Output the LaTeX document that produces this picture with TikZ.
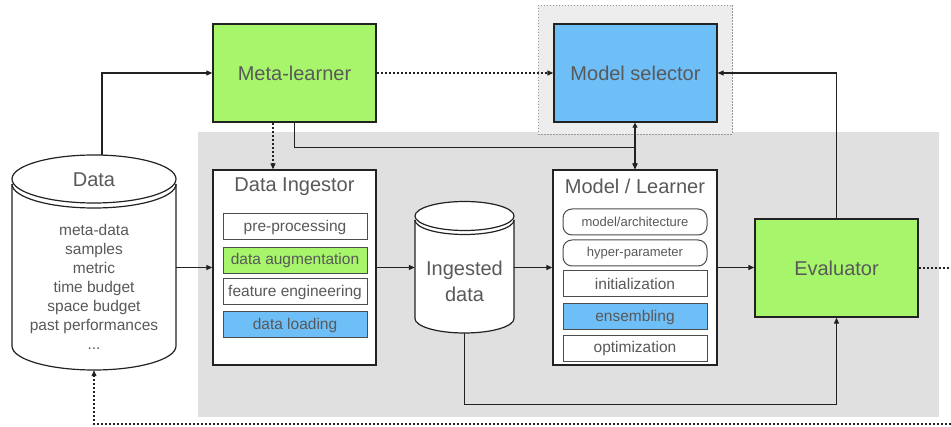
\documentclass[tikz,border=0pt]{standalone}
\usepackage{fontspec}
\setmainfont{Liberation Sans}
\usetikzlibrary{arrows.meta}
\definecolor{lgreen}{RGB}{166,245,107}
\definecolor{lblue}{RGB}{110,190,248}
\definecolor{bggray}{RGB}{224,224,224}
\definecolor{selgray}{RGB}{237,237,237}
\definecolor{txt}{RGB}{89,89,89}
\definecolor{edge}{RGB}{34,34,34}
\begin{document}
\begin{tikzpicture}[x=1pt,y=-1pt,
 every node/.style={text=txt, font=\fontsize{20}{24}\selectfont},
 bigbox/.style={draw=edge, line width=1.3pt, minimum width=163pt, minimum height=98pt, inner sep=0pt},
 panel/.style={draw=edge, line width=1.3pt, fill=white, minimum width=163pt, minimum height=195pt, inner sep=0pt},
 sub/.style={draw=black!70, line width=1pt, minimum width=144pt, minimum height=26pt, inner sep=0pt, font=\fontsize{15.5}{18}\selectfont},
 rsub/.style={sub, rounded corners=9pt, font=\fontsize{13}{16}\selectfont},
 arr/.style={draw=edge, line width=1.1pt, -{Triangle[length=6pt,width=5pt]}},
 dotarr/.style={arr, dash pattern=on 2pt off 2pt},
 dotline/.style={draw=edge, line width=1.1pt, dash pattern=on 2pt off 2pt},
 cyl/.style={draw=edge, line width=1.2pt},
 ghost/.style={inner sep=0pt, draw=none}
]
\useasboundingbox (0,0) rectangle (951,427);
% backgrounds
\fill[bggray] (198,132) rectangle (939,417);
\filldraw[fill=selgray, draw=black!40, line width=0.8pt, dash pattern=on 1.5pt off 1.5pt] (538,5) rectangle (732,134);

% top boxes
\node[bigbox, fill=lgreen] (meta) at (294.5,73) {Meta-learner};
\node[bigbox, fill=lblue] (selector) at (635.5,73) {Model selector};
\node[bigbox, fill=lgreen] (evaluator) at (836.5,268) {Evaluator};

% Data cylinder
\fill[white] (12,184) -- (12,346) arc[start angle=180, end angle=360, x radius=82pt, y radius=24pt] -- (176,184) arc[start angle=0, end angle=180, x radius=82pt, y radius=24pt] -- cycle;
\draw[cyl] (12,184) -- (12,346) arc[start angle=180, end angle=360, x radius=82pt, y radius=24pt] -- (176,184);
\draw[cyl] (12,184) arc[start angle=180, end angle=360, x radius=82pt, y radius=24pt];
\filldraw[cyl, fill=white] (94,179) ellipse[x radius=82pt, y radius=24pt];
\node[ghost, minimum width=164pt, minimum height=215pt] (data) at (94,262.5) {};
\node (datalabel) at (94,180) {Data};
\node[align=center, font=\fontsize{15.5}{19}\selectfont] (datatext) at (94,287) {meta-data\\samples\\metric\\time budget\\space budget\\past performances\\...};

% Data Ingestor
\node[panel] (ingestor) at (294.5,267.5) {};
\node (ingtitle) at (294.5,187) {Data Ingestor};
\node[sub, fill=white] (pre) at (295,227) {pre-processing};
\node[sub, fill=lgreen] (aug) at (295,260.5) {data augmentation};
\node[sub, fill=white] (feat) at (295,292) {feature engineering};
\node[sub, fill=lblue] (load) at (295,325) {data loading};

% Ingested data cylinder
\fill[white] (415,220) -- (415,318.5) arc[start angle=180, end angle=360, x radius=49.5pt, y radius=14.5pt] -- (514,220) arc[start angle=0, end angle=180, x radius=49.5pt, y radius=14.5pt] -- cycle;
\draw[cyl] (415,220) -- (415,318.5) arc[start angle=180, end angle=360, x radius=49.5pt, y radius=14.5pt] -- (514,220);
\draw[cyl] (415,220) arc[start angle=180, end angle=360, x radius=49.5pt, y radius=14.5pt];
\filldraw[cyl, fill=white] (464.5,216) ellipse[x radius=49.5pt, y radius=14.5pt];
\node[ghost, minimum width=99pt, minimum height=131pt] (ingested) at (464.5,267.5) {};
\node[align=center, font=\fontsize{20}{26}\selectfont] (ingtext) at (464.5,281) {Ingested\\data};

% Model / Learner
\node[panel, minimum width=164pt] (learner) at (635,267.5) {};
\node (lrntitle) at (635,186) {Model / Learner};
\node[rsub, fill=white] (arch) at (635,222) {model/architecture};
\node[rsub, fill=white] (hyper) at (635,253) {hyper-parameter};
\node[sub, fill=white] (init) at (635,284) {initialization};
\node[sub, fill=lblue] (ens) at (635,317) {ensembling};
\node[sub, fill=white] (opt) at (635,348.5) {optimization};

% connectors
\coordinate (rightA) at (951,268);
\coordinate (rightB) at (951,424);
\draw[arr] ([xshift=8pt]data.north) |- (meta.west);
\draw[dotarr] (meta.east) -- (selector.west);
\draw[arr] (evaluator.north) |- (selector.east);
\draw[dotarr] ([xshift=-21.5pt]meta.south) -- ([xshift=-21.5pt]ingestor.north);
\draw[arr] (meta.south) -- ++(0,25) -| (learner.north);
\draw[arr, {Triangle[length=5pt,width=5pt]}-{Triangle[length=6pt,width=5pt]}] (selector.south -| learner.north) -- (learner.north);
\draw[arr] (data.east |- ingestor.west) -- (ingestor.west);
\draw[arr] (ingestor.east) -- (ingested.west);
\draw[arr] (ingested.east) -- (learner.west);
\draw[arr] (learner.east) -- (evaluator.west |- learner.east);
\draw[arr] (ingested.south) -- ++(0,71) -| (evaluator.south);
\draw[dotline] (evaluator.east) -- (rightA);
\draw[dotarr] (rightB) -| (data.south);
\end{tikzpicture}
\end{document}
